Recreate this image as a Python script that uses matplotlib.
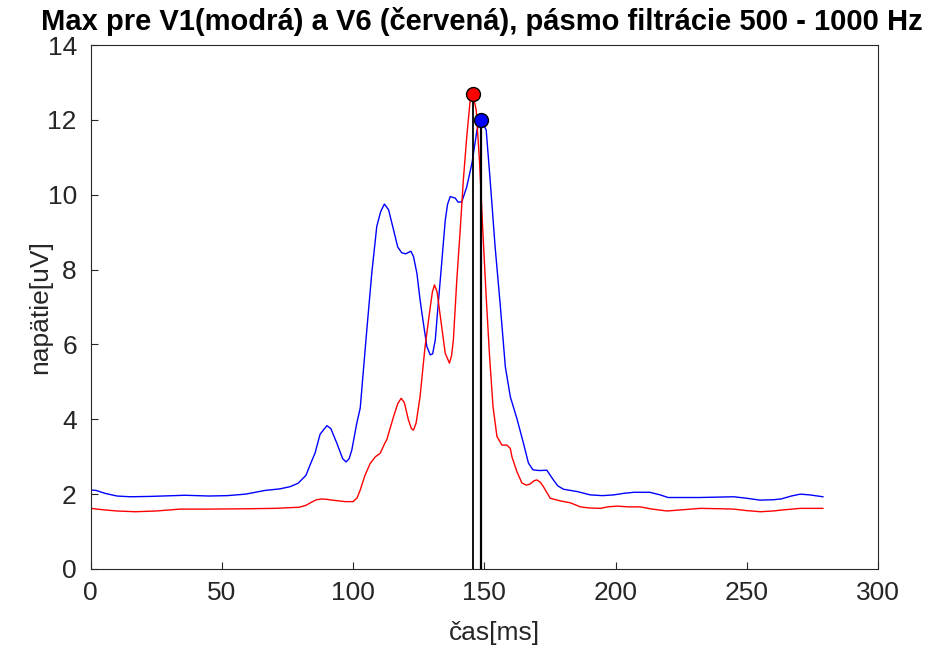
import matplotlib
matplotlib.use("Agg")
import matplotlib.pyplot as plt

# V1 (blue) trace
v1_t = [0, 2, 5.5, 10, 15, 23, 36, 45, 52, 59, 66.5, 72, 76, 79, 82, 84, 85.5, 87.4, 90, 91.5,
        93.8, 96, 97.3, 98.5, 99.5, 101.4, 102.7, 105.2, 107.1, 109, 110.5, 111.9, 113.5, 115.4,
        117, 118.5, 120, 122, 123, 124.3, 125.5, 126.2, 128.1, 129.4, 130.3, 131.3, 132.2, 133.2,
        135.1, 136, 137, 138.9, 140, 141.4, 143.3, 145.3, 147.2, 148.7, 150.7, 152.2, 154.1, 156,
        158, 159.9, 162.4, 164.9, 166.8, 168.5, 171, 173.8, 176.3, 178, 180.2, 185.3, 190.4, 195,
        199.3, 203, 207, 213, 217, 220, 232, 245, 250, 255, 260, 263, 267, 270.4, 274, 279]
v1_u = [2.11, 2.10, 2.02, 1.95, 1.93, 1.94, 1.97, 1.95, 1.96, 2.0, 2.1, 2.14, 2.2, 2.29, 2.5, 2.85,
        3.1, 3.6, 3.83, 3.75, 3.36, 2.95, 2.86, 2.95, 3.18, 3.9, 4.3, 6.38, 7.9, 9.15, 9.55, 9.75,
        9.6, 9.06, 8.6, 8.45, 8.42, 8.49, 8.35, 7.9, 7.2, 6.84, 5.94, 5.72, 5.75, 6.12, 6.9, 7.72,
        9.32, 9.75, 9.95, 9.91, 9.8, 9.81, 10.21, 10.85, 11.73, 12.0, 11.73, 10.4, 8.61, 7.1, 5.4,
        4.6, 4.02, 3.36, 2.83, 2.65, 2.63, 2.64, 2.38, 2.22, 2.13, 2.07, 1.98, 1.96, 1.98, 2.02,
        2.05, 2.05, 1.98, 1.91, 1.91, 1.93, 1.89, 1.84, 1.85, 1.87, 1.95, 2.0, 1.98, 1.93]

# V6 (red) trace
v6_t = [0, 5, 10, 17, 25, 34, 45, 60, 70, 79.5, 82, 84, 86, 88, 90, 92, 97, 100, 101.5, 102.7,
        104.5, 106.5, 108.5, 110.3, 112, 112.8, 115.4, 117, 118.3, 119.5, 121, 122.2, 123, 124,
        125.5, 127.4, 129.4, 130.2, 131, 132, 132.9, 135.1, 136.7, 137.5, 138.2, 139.5, 140.8, 142,
        143.3, 144.6, 145.6, 146.9, 148.2, 149.4, 150.7, 152, 153.3, 154.8, 156.7, 158.6, 159.9,
        160.5, 162.4, 164.3, 166, 167.4, 169, 170, 171.3, 172.5, 175.1, 178.9, 182.7, 186.6, 190,
        194.2, 197, 200.5, 205, 209.4, 214, 219.6, 225, 232.3, 240, 245, 250, 255.2, 260, 264,
        270.4, 279]
v6_u = [1.62, 1.58, 1.55, 1.53, 1.55, 1.6, 1.6, 1.61, 1.62, 1.65, 1.7, 1.78, 1.85, 1.87, 1.86,
        1.84, 1.8, 1.8, 1.9, 2.11, 2.5, 2.82, 3.0, 3.09, 3.35, 3.45, 4.07, 4.42, 4.56, 4.45, 4.0,
        3.75, 3.71, 3.9, 4.6, 5.94, 7.0, 7.4, 7.59, 7.4, 6.92, 5.76, 5.5, 5.7, 6.12, 7.72, 9.06,
        10.4, 11.55, 12.53, 12.7, 12.26, 10.84, 9.06, 7.27, 5.67, 4.34, 3.54, 3.31, 3.31, 3.22,
        3.0, 2.6, 2.3, 2.24, 2.27, 2.36, 2.38, 2.32, 2.2, 1.89, 1.82, 1.77, 1.66, 1.63, 1.62,
        1.66, 1.68, 1.66, 1.66, 1.6, 1.55, 1.58, 1.62, 1.61, 1.6, 1.56, 1.53, 1.55, 1.58, 1.62,
        1.62]

# maxima
v6_max_t, v6_max_u = 145.6, 12.7
v1_max_t, v1_max_u = 148.7, 12.0

x_ticks = [0, 50, 100, 150, 200, 250, 300]
y_ticks = [0, 2, 4, 6, 8, 10, 12, 14]
title = "Max pre V1(modrá) a V6 (červená), pásmo filtrácie 500 - 1000 Hz"

plt.rcParams['font.family'] = ['Liberation Sans', 'DejaVu Sans']

fig = plt.figure(figsize=(9.31, 6.55), dpi=100)
ax = fig.add_axes([90.7 / 931, 1 - 569 / 655, (878 - 90.7) / 931, (569 - 45) / 655])

ax.plot(v1_t, v1_u, color='#0000ff', lw=1.0)
ax.plot(v6_t, v6_u, color='#ff0000', lw=1.0)

ax.plot([v6_max_t, v6_max_t], [0, v6_max_u], color='black', lw=1.3)
ax.plot([v1_max_t, v1_max_t], [0, v1_max_u], color='black', lw=1.6)
ax.plot([v6_max_t], [v6_max_u], 'o', color='#ff0000', mec='black', mew=1.0, ms=10)
ax.plot([v1_max_t], [v1_max_u], 'o', color='#0000ff', mec='black', mew=1.0, ms=10)

ax.set_xlim(0, 300)
ax.set_ylim(0, 14)
ax.set_xticks(x_ticks)
ax.set_yticks(y_ticks)
ax.tick_params(direction='in', length=5, width=0.8, labelsize=19, colors='#262626')
ax.tick_params(axis='x', pad=9)
ax.tick_params(axis='y', pad=10)
for s in ax.spines.values():
    s.set_color('#262626')
    s.set_linewidth(0.8)

fig.text(494 / 931, 1 - 633 / 655, "čas[ms]", ha='center', va='center', fontsize=19,
         color='#262626')
fig.text(40 / 931, 1 - 307 / 655, "napätie[uV]", ha='center', va='center', fontsize=19,
         color='#262626', rotation=90)
fig.text(482 / 931, 1 - 21 / 655, title, ha='center', va='center', fontsize=21,
         fontweight='bold', color='black')

fig.savefig("out.png", dpi=100)
